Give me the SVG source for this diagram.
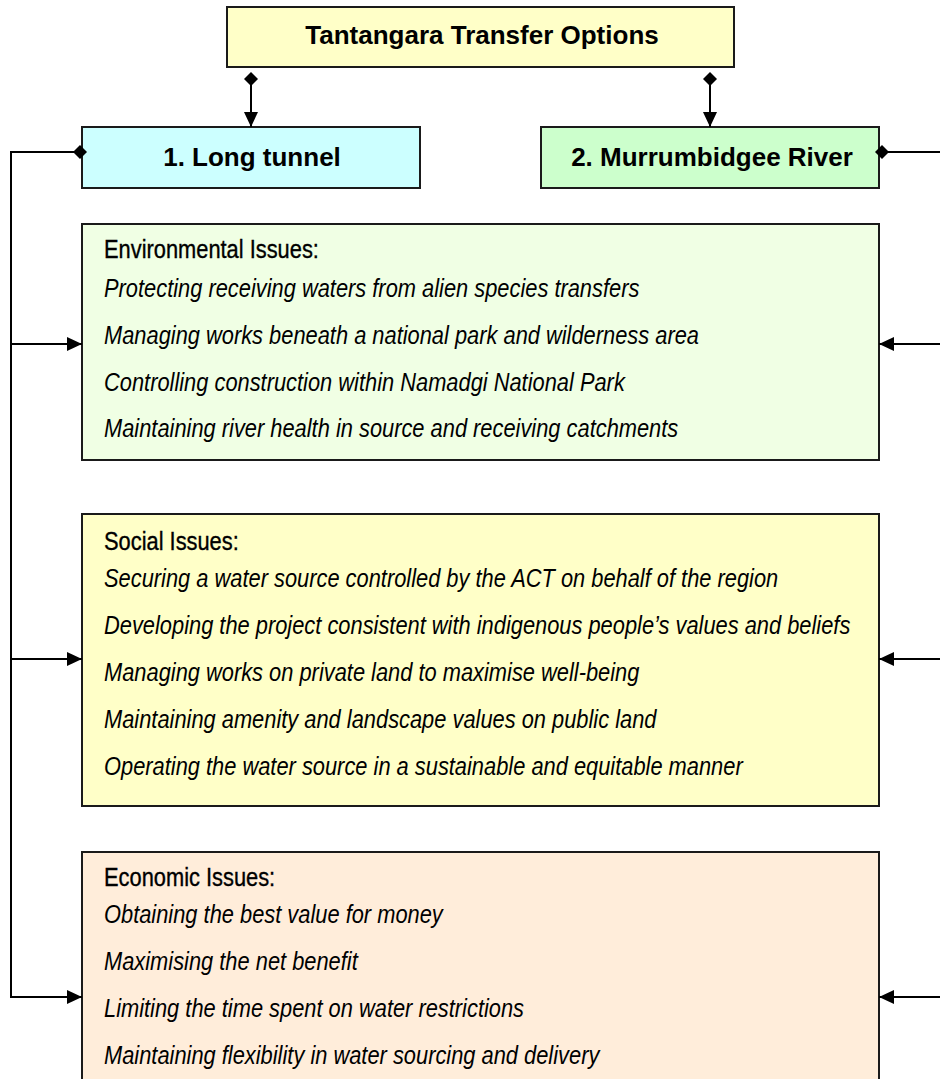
<svg xmlns="http://www.w3.org/2000/svg" width="940" height="1079" viewBox="0 0 940 1079">
<style>
.box{stroke:#1a1a1a;stroke-width:2}
.lbl{font-family:"Liberation Sans",Arial,sans-serif;font-weight:bold;font-size:26px;fill:#000;text-anchor:middle}
.hdr{font-family:"Liberation Sans",Arial,sans-serif;font-weight:normal;font-size:25.5px;fill:#000;stroke:#000;stroke-width:0.35}
.item{font-family:"Liberation Sans",Arial,sans-serif;font-style:italic;font-size:25.5px;fill:#000}
.con{fill:none;stroke:#000;stroke-width:2}
</style>
<defs>
<marker id="arrow" markerUnits="userSpaceOnUse" viewBox="0 0 15 14" refX="15" refY="7" markerWidth="15" markerHeight="14" orient="auto">
<path d="M0,0 L15,7 L0,14 z" fill="#000"/>
</marker>
<marker id="diamond" markerUnits="userSpaceOnUse" viewBox="0 0 14 14" refX="7" refY="7" markerWidth="14" markerHeight="14" orient="auto">
<path d="M0,7 L7,0 L14,7 L7,14 z" fill="#000"/>
</marker>
</defs>

<g id="top">
<rect class="box" x="227" y="7" width="507" height="60" fill="#FFFFC8"/>
<text class="lbl" x="482" y="44">Tantangara Transfer Options</text>
</g>

<g id="long-tunnel">
<rect class="box" x="82" y="127" width="338" height="61" fill="#CCFFFF"/>
<text class="lbl" x="252" y="166">1. Long tunnel</text>
</g>

<g id="murrumbidgee">
<rect class="box" x="541" y="127" width="338" height="61" fill="#CCFFCC"/>
<text class="lbl" x="712" y="166">2. Murrumbidgee River</text>
</g>

<g id="environmental">
<rect class="box" x="82" y="224" width="797" height="236" fill="#F0FFE4"/>
<g transform="translate(104,0) scale(0.857,1)">
<text class="hdr" x="0" y="258">Environmental Issues:</text>
<text class="item" x="0" y="297">Protecting receiving waters from alien species transfers</text>
<text class="item" x="0" y="344">Managing works beneath a national park and wilderness area</text>
<text class="item" x="0" y="391">Controlling construction within Namadgi National Park</text>
<text class="item" x="0" y="437">Maintaining river health in source and receiving catchments</text>
</g>
</g>

<g id="social">
<rect class="box" x="82" y="514" width="797" height="292" fill="#FFFFC8"/>
<g transform="translate(104,0) scale(0.857,1)">
<text class="hdr" x="0" y="550">Social Issues:</text>
<text class="item" x="0" y="587">Securing a water source controlled by the ACT on behalf of the region</text>
<text class="item" x="0" y="634">Developing the project consistent with indigenous people’s values and beliefs</text>
<text class="item" x="0" y="681">Managing works on private land to maximise well-being</text>
<text class="item" x="0" y="728">Maintaining amenity and landscape values on public land</text>
<text class="item" x="0" y="775">Operating the water source in a sustainable and equitable manner</text>
</g>
</g>

<g id="economic">
<rect class="box" x="82" y="852" width="797" height="290" fill="#FFEDDA"/>
<g transform="translate(104,0) scale(0.857,1)">
<text class="hdr" x="0" y="886">Economic Issues:</text>
<text class="item" x="0" y="923">Obtaining the best value for money</text>
<text class="item" x="0" y="970">Maximising the net benefit</text>
<text class="item" x="0" y="1017">Limiting the time spent on water restrictions</text>
<text class="item" x="0" y="1064">Maintaining flexibility in water sourcing and delivery</text>
</g>
</g>

<g id="connectors">
<path class="con" d="M251,79 V127" marker-start="url(#diamond)" marker-end="url(#arrow)"/>
<path class="con" d="M710,79 V127" marker-start="url(#diamond)" marker-end="url(#arrow)"/>
<path class="con" d="M80,152 H11 V997 H82" marker-start="url(#diamond)" marker-end="url(#arrow)"/>
<path class="con" d="M11,344 H82" marker-end="url(#arrow)"/>
<path class="con" d="M11,659 H82" marker-end="url(#arrow)"/>
<path class="con" d="M882,152 H943 V997 H879" marker-start="url(#diamond)" marker-end="url(#arrow)"/>
<path class="con" d="M943,344 H879" marker-end="url(#arrow)"/>
<path class="con" d="M943,659 H879" marker-end="url(#arrow)"/>
</g>
</svg>
